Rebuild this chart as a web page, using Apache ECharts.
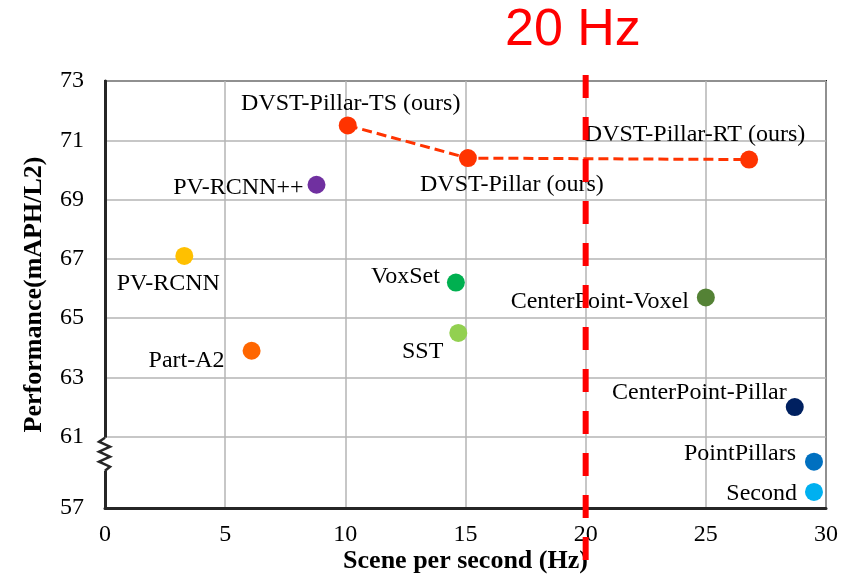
<!DOCTYPE html>
<html><head><meta charset="utf-8">
<script src="https://cdn.jsdelivr.net/npm/echarts@6/dist/echarts.min.js"></script>
<style>html,body{margin:0;padding:0;background:#fff}#c{width:846px;height:578px}</style>
</head><body><div id="c"></div>
<script>
// ---- data ----
const methods = ['DVST-Pillar-TS (ours)', 'DVST-Pillar (ours)', 'DVST-Pillar-RT (ours)', 'PV-RCNN++', 'PV-RCNN', 'Part-A2', 'VoxSet', 'SST', 'CenterPoint-Voxel', 'CenterPoint-Pillar', 'PointPillars', 'Second'];
const fps  = [10.1, 15.1, 26.8, 8.8, 3.3, 6.1, 14.6, 14.7, 25.0, 28.7, 29.5, 29.5];
const perf = [71.5, 70.4, 70.35, 69.5, 67.1, 63.9, 66.2, 64.5, 65.7, 62.0, 59.6, 57.9];
const oursCount = 3;
const xTicks = [0, 5, 10, 15, 20, 25, 30];
const yTicks = [57, 61, 63, 65, 67, 69, 71, 73];
const thresholdHz = 20;
const thresholdText = '20 Hz';
const xName = 'Scene per second (Hz)';
const yName = 'Performance(mAPH/L2)';

// ---- styles ----
const colors = ['#FF3300', '#FF3300', '#FF3300', '#7030A0', '#FFC000', '#FF6600', '#00B050', '#92D050', '#548235', '#002060', '#0070C0', '#00B0F0'];
const labelPos = [
  {position: 'top', offset: [3, 4]},
  {position: 'bottom', offset: [44, 1]},
  {position: 'top', offset: [-54, 1]},
  {position: 'left', offset: [1, 3]},
  {position: 'bottom', offset: [-16, 2]},
  {position: 'left', offset: [-13, 10]},
  {position: 'left', offset: [-2, -6]},
  {position: 'left', offset: [-1, 19]},
  {position: 'left', offset: [-3, 4]},
  {position: 'left', offset: [6, -14]},
  {position: 'left', offset: [-4, -8]},
  {position: 'left', offset: [-3, 2]}
];

// broken y axis: 57..61 compressed
const breakAt = 61, breakFloor = 57, breakSpan = 2.405;
function yT(v) { return v >= breakAt ? v : breakAt - (breakAt - v) * breakSpan / (breakAt - breakFloor); }
function yInv(t) { return t >= breakAt - 1e-6 ? Math.round(t) : Math.round(breakAt - (breakAt - t) * (breakAt - breakFloor) / breakSpan); }

const serif = 'Liberation Serif';
function item(i) {
  return {
    name: methods[i],
    value: [fps[i], yT(perf[i])],
    itemStyle: {color: colors[i], opacity: 1},
    label: {show: true, formatter: '{b}', position: labelPos[i].position, offset: labelPos[i].offset,
      fontFamily: serif, fontSize: 24, color: '#000', distance: 5}
  };
}
const oursData = [], othersData = [];
methods.forEach((m, i) => (i < oursCount ? oursData : othersData).push(item(i)));

const chart = echarts.init(document.getElementById('c'), null, {renderer: 'canvas'});
chart.setOption({
  animation: false,
  backgroundColor: '#fff',
  title: {text: thresholdText, left: 500, top: 0,
    textStyle: {fontFamily: 'Liberation Sans', fontSize: 52, fontWeight: 'normal', color: '#FF0000'}},
  grid: {left: 105, right: 20, top: 81, bottom: 70, show: true, borderColor: '#262626', borderWidth: 2,
    containLabel: false, outerBoundsMode: 'none'},
  xAxis: {
    type: 'value', min: xTicks[0], max: xTicks[xTicks.length - 1], interval: 5,
    name: xName, nameLocation: 'middle', nameGap: 40, nameMoveOverlap: false,
    nameTextStyle: {fontFamily: serif, fontSize: 26, fontWeight: 'bold', color: '#000'},
    axisLine: {show: true, lineStyle: {color: '#262626', width: 3}},
    axisTick: {show: false},
    axisLabel: {fontFamily: serif, fontSize: 24, color: '#000', margin: 15},
    splitLine: {show: true, lineStyle: {color: '#b5b5b5', width: 1.5}}
  },
  yAxis: {
    type: 'value', min: yT(yTicks[0]), max: yTicks[yTicks.length - 1],
    name: yName, nameLocation: 'middle', nameGap: 58, nameMoveOverlap: false,
    nameTextStyle: {fontFamily: serif, fontSize: 26, fontWeight: 'bold', color: '#000'},
    axisLine: {show: true, lineStyle: {color: '#262626', width: 3}},
    axisTick: {show: false, customValues: yTicks.map(yT)},
    axisLabel: {fontFamily: serif, fontSize: 24, color: '#000', margin: 21, padding: [8, 0, 0, 0],
      customValues: yTicks.map(yT), formatter: v => String(yInv(v))},
    splitLine: {show: true, lineStyle: {color: '#b5b5b5', width: 1.5}}
  },
  series: [
    {type: 'line', data: oursData, symbol: 'circle', symbolSize: 18, z: 3,
      lineStyle: {color: '#FF3300', width: 3, type: [10, 5]}},
    {type: 'scatter', data: othersData, symbol: 'circle', symbolSize: 18, z: 3, itemStyle: {opacity: 1}}
  ]
});

// decorations: threshold line and axis-break zigzag, positioned through the axes
const pTop = chart.convertToPixel({gridIndex: 0}, [thresholdHz, yTicks[yTicks.length - 1]]);
const pBreak = chart.convertToPixel({gridIndex: 0}, [xTicks[0], breakAt]);
const x0 = pBreak[0], y1 = pBreak[1] + 1;
const zz = [[x0, y1], [x0 - 6, y1 + 4], [x0 + 5, y1 + 9], [x0 - 6, y1 + 14], [x0 + 5, y1 + 19], [x0 - 6, y1 + 24], [x0 + 5, y1 + 29], [x0, y1 + 33]];
chart.setOption({
  graphic: [
    {type: 'rect', shape: {x: x0 - 3, y: y1, width: 6, height: 33}, style: {fill: '#fff'}, z: 50},
    {type: 'polyline', shape: {points: zz}, style: {stroke: '#262626', lineWidth: 2.5, fill: null}, z: 51},
    {type: 'line', shape: {x1: pTop[0], y1: pTop[1] - 6, x2: pTop[0], y2: 578},
      style: {stroke: '#FF0000', lineWidth: 6, lineDash: [23, 19]}, z: 100}
  ]
});
</script>
</body></html>
